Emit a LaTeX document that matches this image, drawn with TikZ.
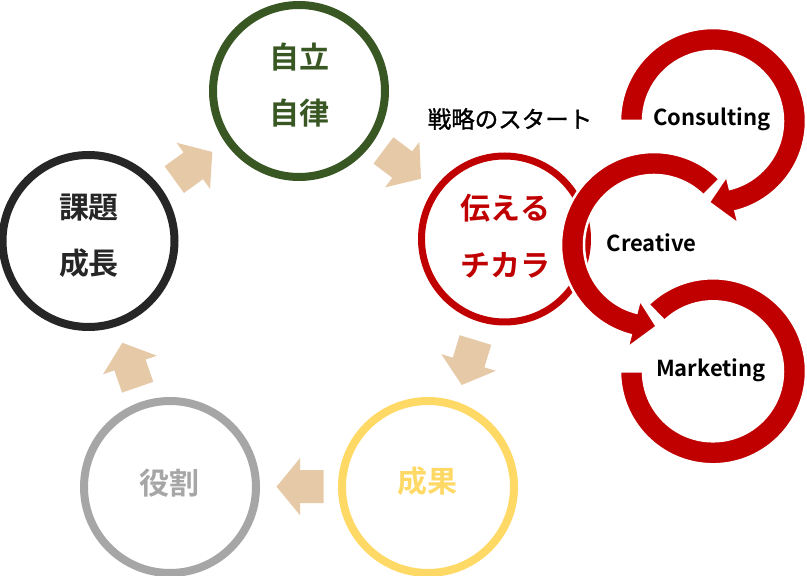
\documentclass[tikz,border=0pt]{standalone}
\usepackage{fontspec}
\newfontfamily\jp{Noto Sans CJK JP}[BoldFont={Noto Sans CJK JP Bold}]
\newfontfamily\jpm{Noto Sans CJK JP}[FakeBold=1.2]
\definecolor{cgreen}{HTML}{385723}
\definecolor{cblack}{HTML}{262626}
\definecolor{cred}{HTML}{C00000}
\definecolor{cyellow}{HTML}{FFD966}
\definecolor{cgray}{HTML}{A6A6A6}
\definecolor{cbeige}{HTML}{E6CAA7}
\tikzset{
  bigc/.style={circle, inner sep=0pt, minimum size=172pt, line width=8pt},
  jt/.style={font=\fontsize{30}{36}\selectfont\jp\bfseries, inner sep=0pt},
  lt/.style={font=\fontsize{22}{27}\selectfont\jp\bfseries, inner sep=0pt, text=black},
  st/.style={font=\fontsize{23.5}{28}\selectfont\jpm, inner sep=0pt, text=black},
  ringfill/.style={fill=cred, draw=white, line width=2.5pt, line join=miter},
}
\newcommand{\blockarrow}[3]{%
  \fill[cbeige, shift={(#1,#2)}, rotate=#3]
    (-23.5,-16.5) -- (0,-16.5) -- (0,-28.5) -- (23.5,0) -- (0,28.5) -- (0,16.5) -- (-23.5,16.5) -- cycle;}
% center x, center y, start angle, end angle, tip angle
\newcommand{\ringarrow}[5]{%
  \begin{scope}[shift={(#1,#2)}]
  \path[ringfill] (#3:93) arc[start angle=#3, end angle=#4, radius=93]
    -- (#4:106.5) -- (#5:81.5) -- (#4:56.5) -- (#4:70)
    arc[start angle=#4, end angle=#3, radius=70] -- cycle;
  \end{scope}}
\begin{document}
\begin{tikzpicture}[x=1pt,y=1pt]
\useasboundingbox (0,0) rectangle (807,576);
\fill[white] (0,0) rectangle (807,576);

% circles
\node (jiritsu) [bigc, draw=cgreen] at (299,485) {};
\node (kadai)   [bigc, draw=cblack] at (88.5,335) {};
\node (tsutaeru)[bigc, draw=cred, line width=7pt, minimum size=166pt] at (504.5,337) {};
\node (seika)   [bigc, draw=cyellow] at (428,89) {};
\node (yakuwari)[bigc, draw=cgray] at (170,89) {};

% circle texts
\node[jt, text=cgreen] at (299,518.5) {自立};
\node[jt, text=cgreen] at (299,463) {自律};
\node[jt, text=cblack] at (89,368.5) {課題};
\node[jt, text=cblack] at (89,312.5) {成長};
\node[jt, text=cred] at (505.5,367.5) {伝える};
\node[jt, text=cred] at (505.5,311) {チカラ};
\node[jt, text=cyellow] at (427.5,94.5) {成果};
\node[jt, text=cgray] at (169,93) {役割};

% beige arrows
\blockarrow{193.3}{410.2}{36}
\blockarrow{402.2}{411.4}{-37}
\blockarrow{468.6}{213.5}{-107}
\blockarrow{300}{89.3}{180}
\blockarrow{130}{211}{109}

% red ring arrows
\begin{scope}[shift={(713,204.7)}]
  \path[ringfill] (134:93) arc[start angle=134, end angle=-180, radius=93]
    -- (-180:70) arc[start angle=-180, end angle=134, radius=70] -- cycle;
\end{scope}
\ringarrow{654}{331}{45}{255.5}{272}
\ringarrow{713}{455}{180}{-76}{-93}

% labels
\node[st] (start) at (510,457) {戦略のスタート};
\node[lt] (consulting) at (711.7,457) {Consulting};
\node[lt] (creative) at (651.7,333) {Creative};
\node[lt] (marketing) at (711,205.5) {Marketing};
\end{tikzpicture}
\end{document}
